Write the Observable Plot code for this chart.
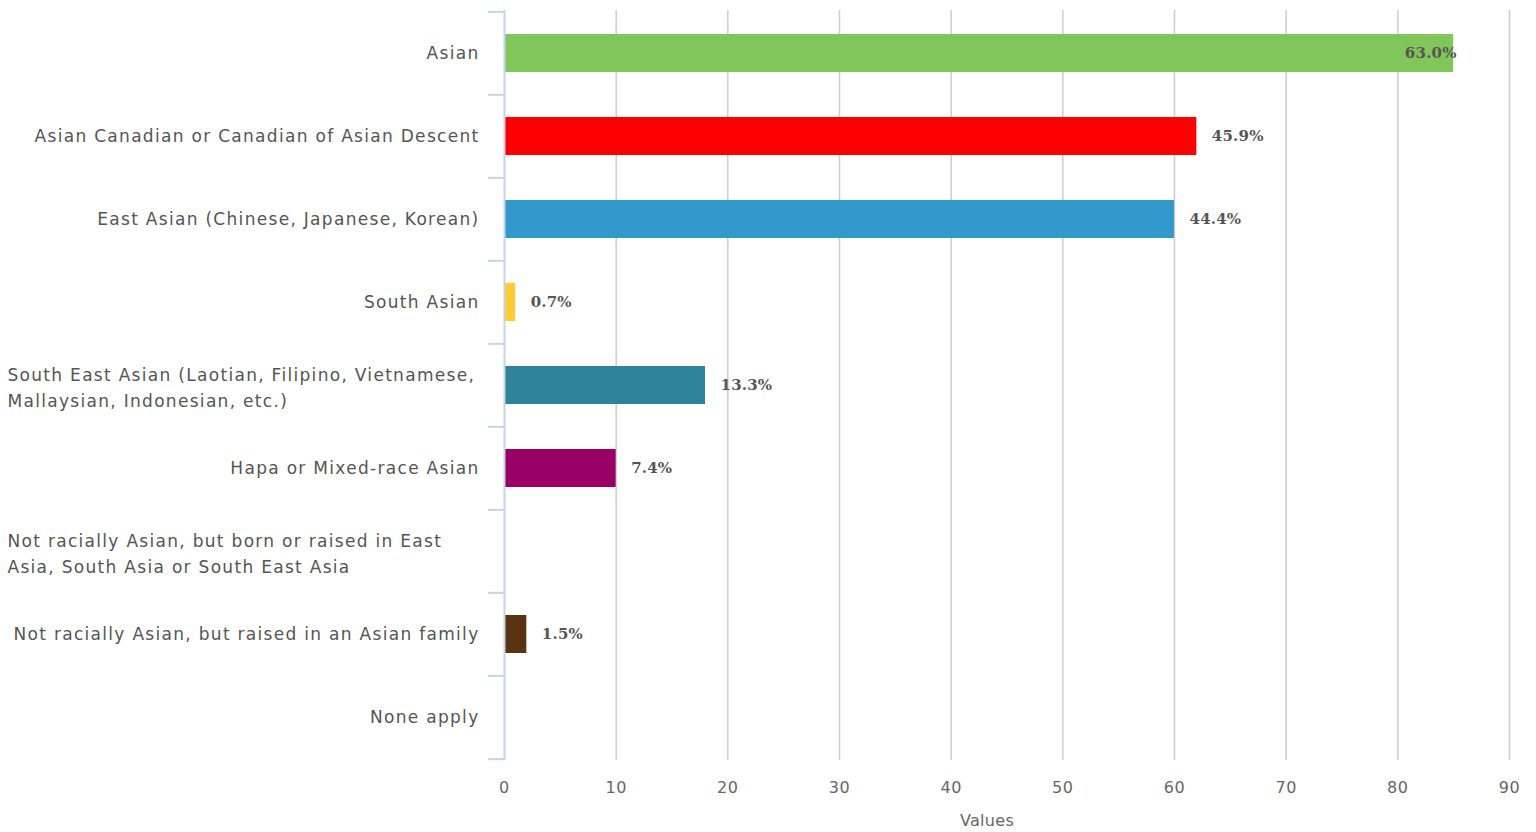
<!DOCTYPE html>
<html>
<head>
<meta charset="utf-8">
<script src="https://cdn.jsdelivr.net/npm/d3@7"></script>
<script src="https://cdn.jsdelivr.net/npm/@observablehq/plot@0.6"></script>
<style>
  html, body { margin: 0; padding: 0; background: #fff; }
  #chart svg { display: block; }
  #chart svg text { letter-spacing: 1.3px; }
  #chart svg g[aria-label="x-axis tick label"] text { letter-spacing: 0.6px; }
  #chart svg g[font-family="DejaVu Serif"] text { letter-spacing: 0.2px; }
  #chart svg g.xlabel text { letter-spacing: 0.3px; }
</style>
</head>
<body>
<div id="chart"></div>
<script>
// ---- data ----
const categories = [
  "Asian",
  "Asian Canadian or Canadian of Asian Descent",
  "East Asian (Chinese, Japanese, Korean)",
  "South Asian",
  "South East Asian (Laotian, Filipino, Vietnamese,\nMallaysian, Indonesian, etc.)",
  "Hapa or Mixed-race Asian",
  "Not racially Asian, but born or raised in East\nAsia, South Asia or South East Asia",
  "Not racially Asian, but raised in an Asian family",
  "None apply"
];
const values = [85, 62, 60, 1, 18, 10, 0, 2, 0];
const percentLabels = ["63.0%", "45.9%", "44.4%", "0.7%", "13.3%", "7.4%", "", "1.5%", ""];
const barColors = ["#80c65a", "#ff0000", "#3399cc", "#ffcc33", "#2e8299", "#990066", "#4d4d4d", "#5a3312", "#999999"];
const xTicks = [0, 10, 20, 30, 40, 50, 60, 70, 80, 90];
const xLabel = "Values";

// ---- layout ----
const W = 1536, H = 832;
const mL = 504, mR = 27, mT = 10, mB = 72;
const step = (H - mT - mB) / categories.length;
const pxPerUnit = (W - mL - mR) / (xTicks[xTicks.length - 1] - xTicks[0]);
const bracketLen = 16 / pxPerUnit;

const data = categories.map((c, i) => ({category: c, value: values[i], pct: percentLabels[i]}));
const singleLine = categories.filter(c => !c.includes("\n"));
const multiLine = categories.filter(c => c.includes("\n"));
const labelColor = "#555";
const axisBlue = "#c6d4e8";

const chart = Plot.plot({
  width: W,
  height: H,
  marginLeft: mL,
  marginRight: mR,
  marginTop: mT,
  marginBottom: mB,
  style: {fontFamily: "DejaVu Sans", background: "#fff"},
  x: {domain: [xTicks[0], xTicks[xTicks.length - 1]], axis: null},
  y: {domain: categories, paddingInner: 0.54, paddingOuter: 0.27, axis: null},
  color: {domain: categories, range: barColors},
  marks: [
    Plot.gridX({ticks: xTicks.filter(t => t > 0), stroke: "#cccccc", strokeOpacity: 1, strokeWidth: 1.5}),
    Plot.barX(data, {x: "value", y: "category", fill: "category"}),
    // y axis line and category boundary ticks
    Plot.ruleX([0], {stroke: axisBlue, strokeWidth: 2}),
    Plot.ruleY(categories, {y: d => d, x1: -bracketLen, x2: 0, dy: -step / 2, stroke: axisBlue, strokeWidth: 2}),
    Plot.ruleY(categories.slice(-1), {y: d => d, x1: -bracketLen, x2: 0, dy: step / 2, stroke: axisBlue, strokeWidth: 2}),
    // category labels
    Plot.axisY({ticks: singleLine, tickSize: 0, tickPadding: 25, fontSize: 17, fill: labelColor, label: null}),
    Plot.text(multiLine, {y: d => d, frameAnchor: "left", textAnchor: "start", dx: -497, fontSize: 17,
      lineHeight: 26 / 17, fill: labelColor}),
    // x axis tick labels
    Plot.axisX({ticks: xTicks, tickSize: 0, tickPadding: 21, fontSize: 16, fill: "#666", label: null}),
    Plot.text([xLabel], {frameAnchor: "bottom", dy: 65, dx: -20, fontSize: 16, fill: "#666", className: "xlabel"}),
    // value labels
    Plot.text(data.filter(d => d.value > 0 && d.value < 80), {x: "value", y: "category", text: "pct",
      textAnchor: "start", dx: 15, fontFamily: "DejaVu Serif", fontWeight: "bold", fontSize: 15, fill: "#555"}),
    Plot.text(data.filter(d => d.value >= 80), {x: "value", y: "category", text: "pct",
      textAnchor: "end", dx: 3, fontFamily: "DejaVu Serif", fontWeight: "bold", fontSize: 15, fill: "#555"})
  ]
});
document.getElementById("chart").appendChild(chart);
</script>
</body>
</html>
